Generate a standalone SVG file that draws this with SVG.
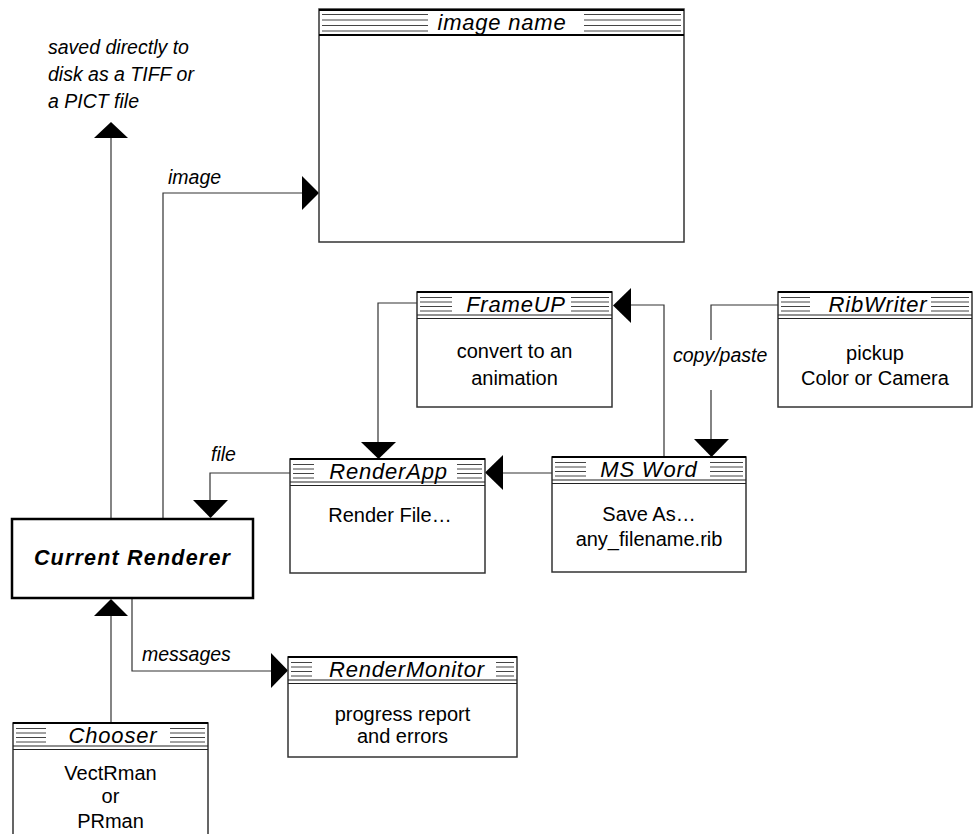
<svg xmlns="http://www.w3.org/2000/svg" width="977" height="834" viewBox="0 0 977 834">
<style>
.box{fill:#fff;stroke:#333;stroke-width:1.5}
.topb{stroke:#000;stroke-width:2}
.st{stroke:#444;stroke-width:1}
.dl{stroke:#222;stroke-width:1.2}
.title{font-family:"Liberation Sans",Arial,sans-serif;font-style:italic;font-size:22px;letter-spacing:0.8px;text-anchor:middle;fill:#000}
.body{font-family:"Liberation Sans",Arial,sans-serif;font-size:20px;text-anchor:middle;fill:#000}
.lbl{font-family:"Liberation Sans",Arial,sans-serif;font-style:italic;font-size:19.5px;fill:#000}
.conn{stroke:#333;stroke-width:1.2;fill:none}
.ah{fill:#000}
</style>
<g id="connectors">
<path class="conn" d="M111 519V138"/><polygon class="ah" points="94,138 128,138 111,122"/>
<path class="conn" d="M163 519V193H302"/><polygon class="ah" points="302,176 302,210 319,193"/>
<path class="conn" d="M290 473H210V500"/><polygon class="ah" points="193,500 228,500 210.5,518"/>
<path class="conn" d="M417 303H378V442"/><polygon class="ah" points="361,442 396,442 378.5,459"/>
<path class="conn" d="M552 473H503"/><polygon class="ah" points="503,455 503,490 485,472.5"/>
<path class="conn" d="M664 457V305H631"/><polygon class="ah" points="631,288 631,323 613,305.5"/>
<path class="conn" d="M778 305H711V340M711 390V439"/><polygon class="ah" points="694,439 729,439 711.5,457"/>
<path class="conn" d="M111 723V616"/><polygon class="ah" points="94,616 128,616 111,599"/>
<path class="conn" d="M132 598V671H271"/><polygon class="ah" points="271,653 271,688 288,670.5"/>
<text class="lbl" x="48" y="54">saved directly to</text>
<text class="lbl" x="48" y="81">disk as a TIFF or</text>
<text class="lbl" x="48" y="108">a PICT file</text>
<text class="lbl" x="168" y="184">image</text>
<text class="lbl" x="211" y="461">file</text>
<text class="lbl" x="673" y="362">copy/paste</text>
<text class="lbl" x="142" y="661">messages</text>
</g>
<g id="image-window">
<rect class="box" x="319" y="9" width="365" height="233"/>
<line class="topb" x1="319" y1="10" x2="684" y2="10"/>
<path class="st" d="M322 14.5H428M322 20H428M322 25.5H428M322 31H428M584 14.5H681M584 20H681M584 25.5H681M584 31H681"/>
<line class="topb" x1="319" y1="35" x2="684" y2="35"/>
<text class="title" x="502" y="30">image name</text>
</g>
<g id="frameup">
<rect class="box" x="417" y="292" width="195" height="115"/>
<line class="topb" x1="417" y1="292" x2="612" y2="292"/>
<path class="st" d="M420 297.5H452M420 302H452M420 306.5H452M420 311H452M571 297.5H609M571 302H609M571 306.5H609M571 311H609"/>
<path class="dl" d="M417 315H612M417 318.5H612"/>
<text class="title" x="516" y="312">FrameUP</text>
<text class="body" x="514.5" y="358">convert to an</text>
<text class="body" x="514.5" y="385">animation</text>
</g>
<g id="ribwriter">
<rect class="box" x="778" y="292" width="194" height="115"/>
<line class="topb" x1="778" y1="292" x2="972" y2="292"/>
<path class="st" d="M781 297.5H810M781 302H810M781 306.5H810M781 311H810M931 297.5H969M931 302H969M931 306.5H969M931 311H969"/>
<path class="dl" d="M778 315H972M778 318.5H972"/>
<text class="title" x="878" y="312">RibWriter</text>
<text class="body" x="875" y="360">pickup</text>
<text class="body" x="875" y="385">Color or Camera</text>
</g>
<g id="renderapp">
<rect class="box" x="290" y="459" width="195" height="114"/>
<line class="topb" x1="290" y1="459" x2="485" y2="459"/>
<path class="st" d="M293 464.5H314M293 469H314M293 473.5H314M293 478H314M457 464.5H482M457 469H482M457 473.5H482M457 478H482"/>
<path class="dl" d="M290 482H485M290 485.5H485"/>
<text class="title" x="388.5" y="479">RenderApp</text>
<text class="body" x="390" y="522">Render File…</text>
</g>
<g id="msword">
<rect class="box" x="552" y="457" width="194" height="115"/>
<line class="topb" x1="552" y1="457" x2="746" y2="457"/>
<path class="st" d="M555 462.5H586M555 467H586M555 471.5H586M555 476H586M710 462.5H743M710 467H743M710 471.5H743M710 476H743"/>
<path class="dl" d="M552 480H746M552 483.5H746"/>
<text class="title" x="649" y="477">MS Word</text>
<text class="body" x="649" y="521">Save As…</text>
<text class="body" x="649" y="546">any_filename.rib</text>
</g>
<g id="current-renderer">
<rect x="12" y="519" width="241" height="79" fill="#fff" stroke="#000" stroke-width="2.5"/>
<text x="132.5" y="565" font-family="Liberation Sans, Arial, sans-serif" font-style="italic" font-weight="bold" font-size="21.5" letter-spacing="1.2" text-anchor="middle">Current Renderer</text>
</g>
<g id="rendermonitor">
<rect class="box" x="288" y="657" width="229" height="100"/>
<line class="topb" x1="288" y1="657" x2="517" y2="657"/>
<path class="st" d="M291 662.5H312M291 667H312M291 671.5H312M291 676H312M496 662.5H514M496 667H514M496 671.5H514M496 676H514"/>
<path class="dl" d="M288 680H517M288 683.5H517"/>
<text class="title" x="407" y="677">RenderMonitor</text>
<text class="body" x="402.5" y="721">progress report</text>
<text class="body" x="402.5" y="743">and errors</text>
</g>
<g id="chooser">
<rect class="box" x="13" y="723" width="195" height="130"/>
<line class="topb" x1="13" y1="723" x2="208" y2="723"/>
<path class="st" d="M16 728.5H46M16 733H46M16 737.5H46M16 742H46M170 728.5H205M170 733H205M170 737.5H205M170 742H205"/>
<path class="dl" d="M13 746H208M13 749.5H208"/>
<text class="title" x="113" y="743">Chooser</text>
<text class="body" x="110.5" y="780">VectRman</text>
<text class="body" x="110.5" y="803">or</text>
<text class="body" x="110.5" y="828">PRman</text>
</g>
</svg>
